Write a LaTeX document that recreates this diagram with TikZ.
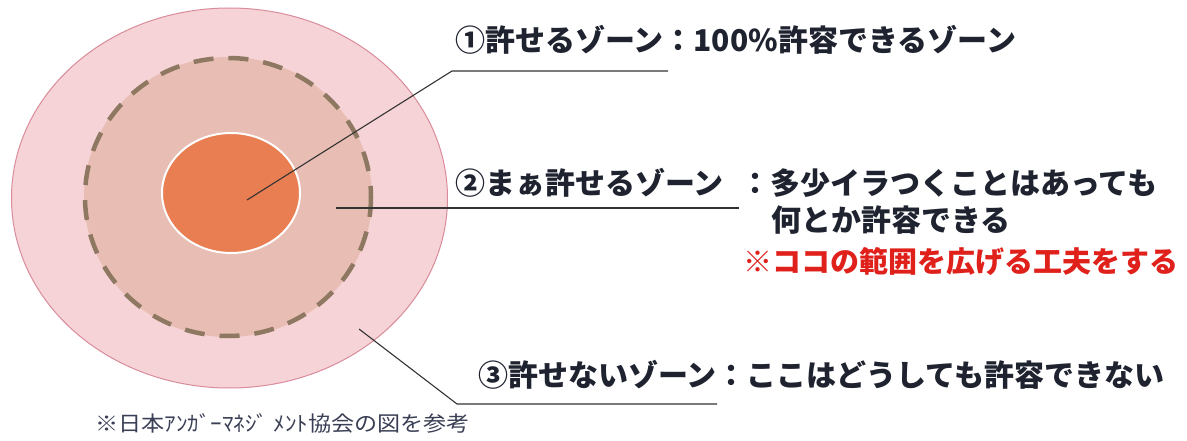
\documentclass[tikz,border=0pt]{standalone}
\usepackage{fontspec}
\newfontfamily\jp{Noto Sans CJK JP}
\definecolor{outerfill}{HTML}{F6D3D6}
\definecolor{outerdraw}{HTML}{D98C9C}
\definecolor{midfill}{HTML}{E8BDB3}
\definecolor{dashcol}{HTML}{8E7862}
\definecolor{innerfill}{HTML}{E97E52}
\definecolor{txt}{HTML}{1F2330}
\definecolor{redtxt}{HTML}{E0201A}
\definecolor{notetxt}{HTML}{3A3F55}
\tikzset{
  label/.style={anchor=west, inner sep=0pt, font=\jp\bfseries\fontsize{30}{34}\selectfont, text=txt},
  redlabel/.style={anchor=west, inner sep=0pt, font=\jp\bfseries\fontsize{29}{34}\selectfont, text=redtxt},
  leader/.style={draw=black!80, line width=1.1pt},
  note/.style={anchor=west, inner sep=0pt, font=\jp\fontsize{21}{24}\selectfont, text=notetxt}
}
\begin{document}
\begin{tikzpicture}[x=1pt,y=-1pt]
\useasboundingbox (0,0) rectangle (1187,441);
\fill[white] (0,0) rectangle (1187,441);
% zones
\draw[fill=outerfill, draw=outerdraw, line width=1pt] (229.5,198) ellipse [x radius=218, y radius=190];
\fill[midfill] (228,197) ellipse [x radius=144, y radius=140];
\draw[dashcol, line width=4.5pt, dash pattern=on 20pt off 15pt] (228,197) ellipse [x radius=143, y radius=139];
\draw[fill=innerfill, draw=white, line width=2pt] (231,193) ellipse [x radius=69, y radius=60];
% anchor points in the zones
\coordinate (p1) at (247,200);
\coordinate (p2) at (336,208);
\coordinate (p3) at (359,329);
\coordinate (c1) at (452,71);
\coordinate (e1) at (668,71);
\coordinate (e2) at (739,208);
\coordinate (c3) at (457,404);
\coordinate (e3) at (717,404);
\draw[leader] (p1) -- (c1) -- (e1);
\draw[leader] (p2) -- (e2);
\draw[leader] (p3) -- (c3) -- (e3);
% labels
\node[label] (t1) at (455,40) {①許せるゾーン：100\%許容できるゾーン};
\node[label] (t2a) at (455,183) {②まぁ許せるゾーン};
\node[label] (t2b) at (740,183) {：多少イラつくことはあっても};
\node[label] (t2c) at (771,220) {何とか許容できる};
\node[redlabel] (t2d) at (743,262) {※ココの範囲を広げる工夫をする};
\node[label] (t3) at (478,375) {③許せないゾーン：ここはどうしても許容できない};
\node[note] (n) at (95,423) {\scalebox{1.1}[1]{※日本ｱﾝｶﾞｰﾏﾈｼﾞ ﾒﾝﾄ協会の図を参考}};
\end{tikzpicture}
\end{document}
